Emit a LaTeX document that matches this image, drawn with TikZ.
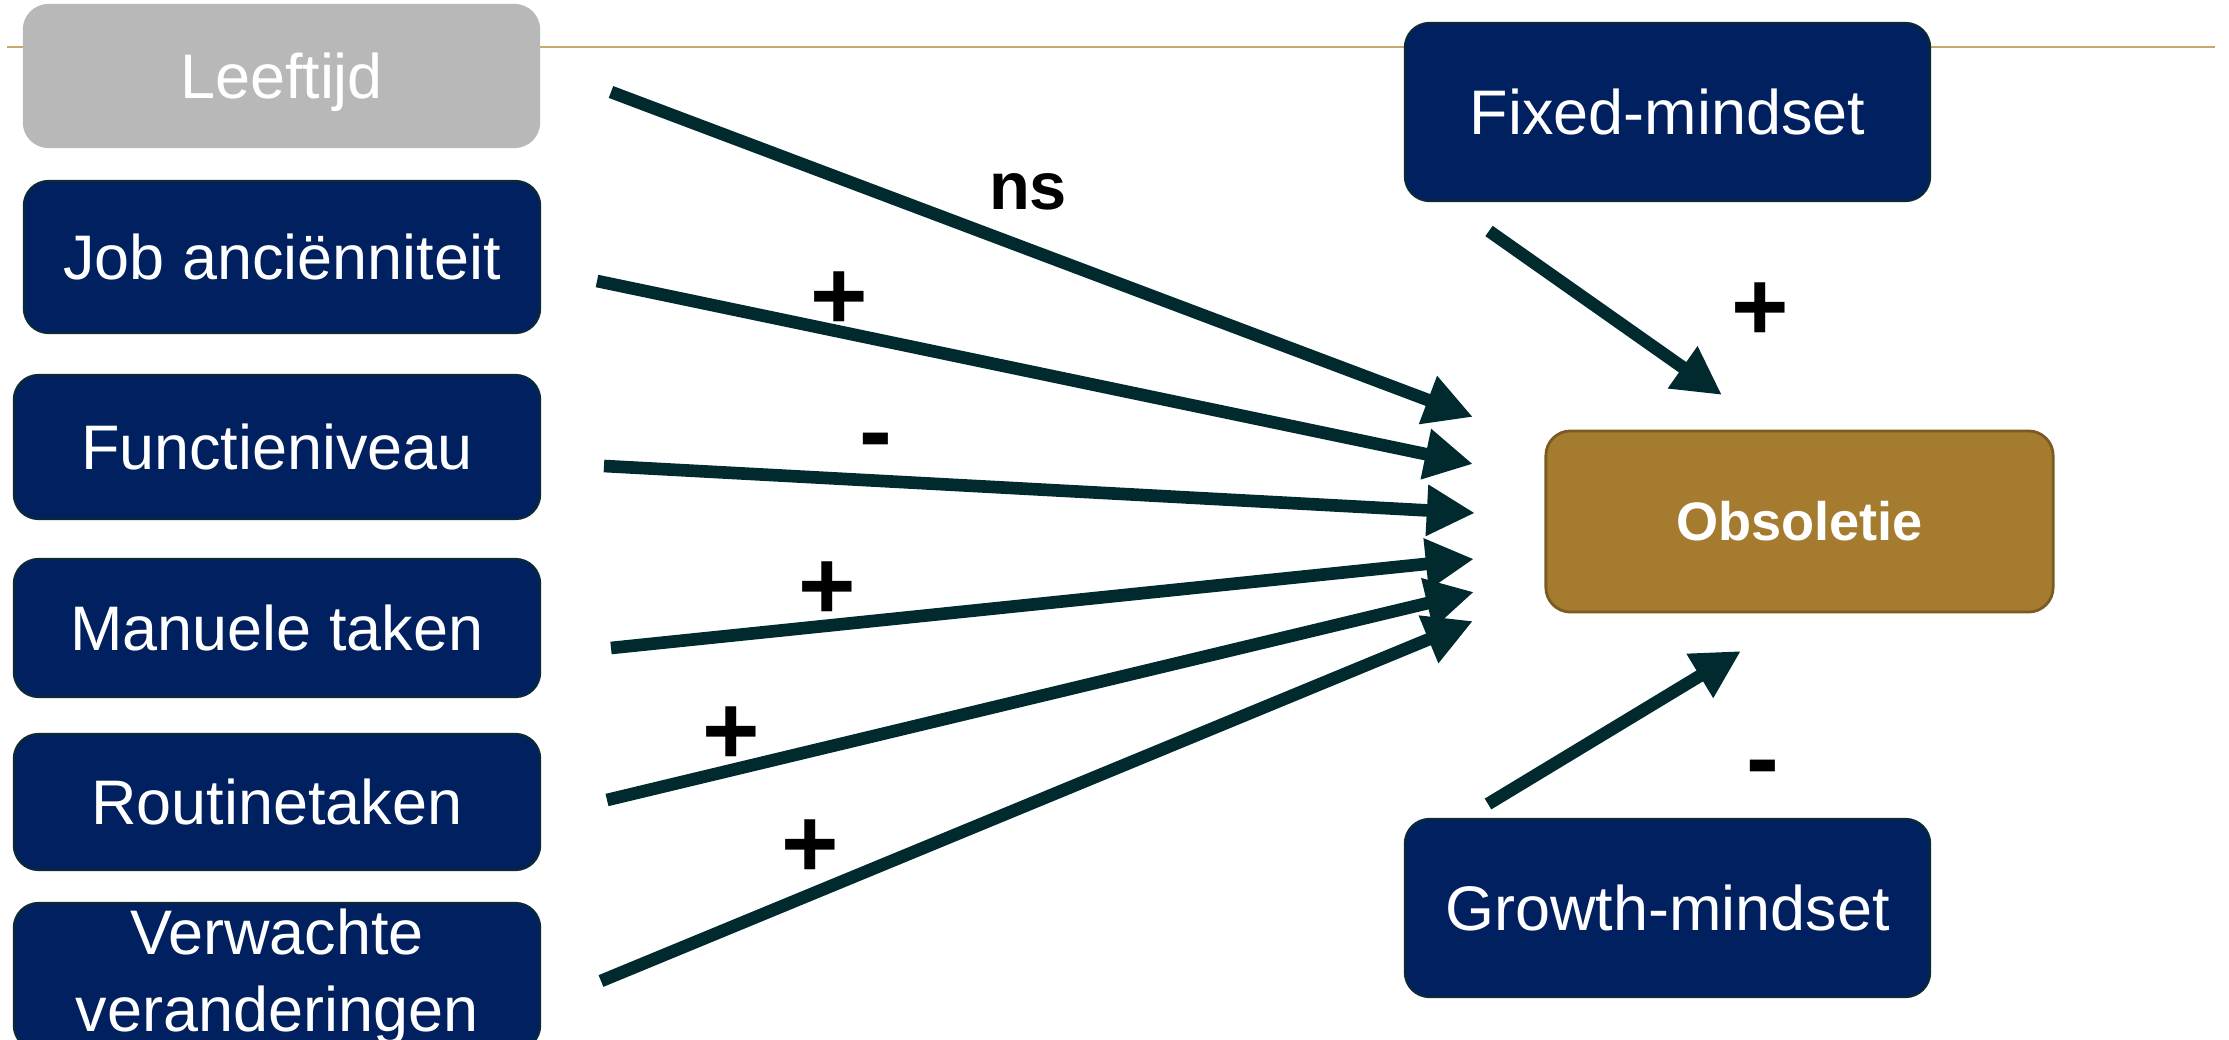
\documentclass[tikz,border=0pt]{standalone}
\usepackage{fontspec}
\setmainfont{Liberation Sans}
\usetikzlibrary{arrows.meta}
\definecolor{navy}{HTML}{002060}
\definecolor{navyedge}{HTML}{0B2A36}
\definecolor{greybox}{HTML}{B8B8B8}
\definecolor{gold}{HTML}{A57C2F}
\definecolor{goldedge}{HTML}{7A5B22}
\definecolor{rulecol}{HTML}{C5A870}
\definecolor{arrowcol}{HTML}{012A2E}
\begin{document}
\begin{tikzpicture}[x=0.01cm,y=-0.01cm,
  box/.style={rectangle, rounded corners=7pt, inner sep=0pt, align=center,
    text=white, fill=navy, draw=navyedge, line width=0.6pt,
    font=\fontsize{17.9}{21.8}\selectfont},
  greyed/.style={box, fill=greybox, draw=greybox},
  target/.style={box, fill=gold, draw=goldedge, line width=0.8pt,
    font=\bfseries\fontsize{15.4}{18}\selectfont},
  effect/.style={draw=arrowcol, line width=3.6pt,
    -{Triangle[length=13.7pt,width=13.7pt]}},
  sign/.style={inner sep=0pt, font=\bfseries\fontsize{28}{30}\selectfont},
  nslabel/.style={inner sep=0pt, font=\bfseries\fontsize{19}{22}\selectfont}]
\useasboundingbox (0,0) rectangle (2229,1040);
\clip (0,0) rectangle (2229,1040);

% thin rule across the top
\coordinate (ruleL) at (7,47);
\coordinate (ruleR) at (2215,47);
\draw[rulecol, line width=0.7pt] (ruleL) -- (ruleR);

% predictors
\node[greyed, text depth=0pt, minimum width=5.15cm, minimum height=1.42cm] (age) at (281.5,76) {Leeftijd};
\node[box, text depth=0pt, minimum width=5.16cm, minimum height=1.52cm] (tenure) at (282,257) {Job anciënniteit};
\node[box, minimum width=5.26cm, minimum height=1.44cm] (level) at (277,447) {Functieniveau};
\node[box, minimum width=5.26cm, minimum height=1.38cm] (manual) at (277,628) {Manuele taken};
\node[box, minimum width=5.26cm, minimum height=1.36cm] (routine) at (277,802) {Routinetaken};
\node[box, minimum width=5.26cm, minimum height=1.47cm] (change) at (277,976.5) {Verwachte\\veranderingen};

% mindsets and outcome
\node[box, minimum width=5.25cm, minimum height=1.78cm] (fixed) at (1667.5,112) {Fixed-mindset};
\node[box, minimum width=5.25cm, minimum height=1.78cm] (growth) at (1667.5,908) {Growth-mindset};
\node[target, minimum width=5.07cm, minimum height=1.81cm] (obs) at (1799.5,521.5) {Obsoletie};

% arrow ends
\coordinate (s1) at (611,92);   \coordinate (t1) at (1473,417);
\coordinate (s2) at (597,281);  \coordinate (t2) at (1473,464);
\coordinate (s3) at (604,466);  \coordinate (t3) at (1475,513);
\coordinate (s4) at (611,648);  \coordinate (t4) at (1474,559);
\coordinate (s5) at (607,800);  \coordinate (t5) at (1474,592);
\coordinate (s6) at (601,981);  \coordinate (t6) at (1473,621);
\coordinate (sf) at (1489,231); \coordinate (tf) at (1722,395);
\coordinate (sg) at (1488,804); \coordinate (tg) at (1741,651);

\draw[effect] (s1) -- (t1);
\draw[effect] (s2) -- (t2);
\draw[effect] (s3) -- (t3);
\draw[effect] (s4) -- (t4);
\draw[effect] (s5) -- (t5);
\draw[effect] (s6) -- (t6);
\draw[effect] (sf) -- (tf);
\draw[effect] (sg) -- (tg);

% effect signs
\node[nslabel] (l1) at (1028,192) {ns};
\node[sign] (l2) at (839,301) {+};
\node[sign] (l3) at (876,449) {-};
\node[sign] (l4) at (827,591) {+};
\node[sign] (l5) at (731,736) {+};
\node[sign] (l6) at (810,849) {+};
\node[sign] (lf) at (1760,312) {+};
\node[sign] (lg) at (1763,776) {-};
\end{tikzpicture}
\end{document}
